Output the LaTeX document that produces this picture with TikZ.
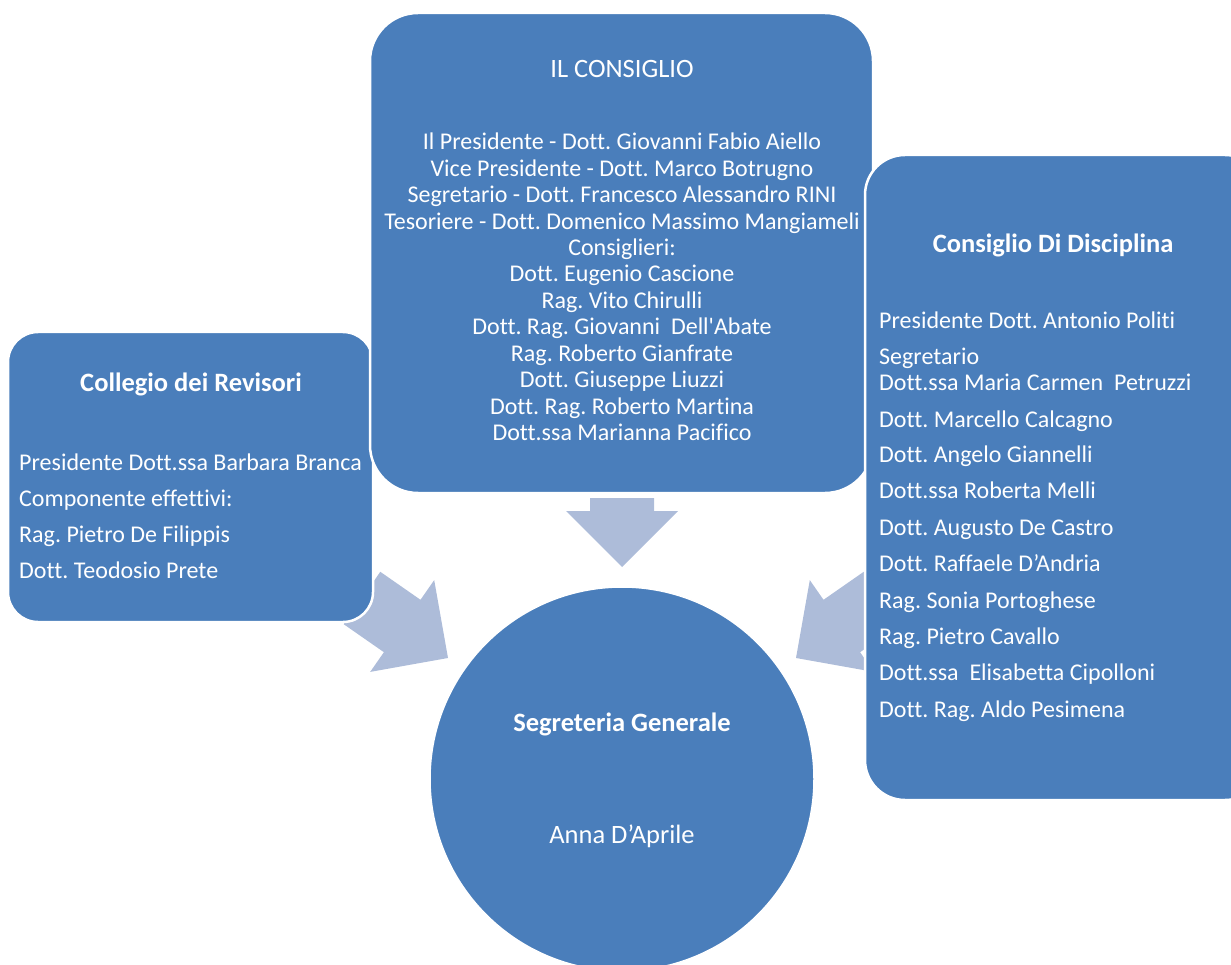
\documentclass[tikz,border=0pt]{standalone}
\usepackage{fontspec}
\setmainfont{Carlito}[Ligatures={NoCommon}]
\frenchspacing
\definecolor{boxblue}{HTML}{4A7EBB}
\definecolor{arrowblue}{HTML}{ADBCD9}
\begin{document}
\begin{tikzpicture}[x=1pt,y=-1pt,
  box/.style={fill=boxblue, draw=white, line width=2.5pt, inner sep=0pt, outer sep=0pt, anchor=north west},
  blockarrow/.style={fill=arrowblue},
  txt/.style={text=white, font=\fontsize{24}{28}\selectfont, inner sep=0pt},
  ttxt/.style={txt, font=\fontsize{26.5}{30}\selectfont},
  btxt/.style={txt, font=\fontsize{26.5}{30}\selectfont\bfseries}]
\useasboundingbox (0,0) rectangle (1231,965);
\clip (0,0) rectangle (1231,965);

% block arrows towards the Segreteria
\fill[blockarrow] (590,498) -- (654,498) -- (654,511) -- (678,511) -- (622,567) -- (566,511) -- (590,511) -- cycle;
\fill[blockarrow] (380.3,571.8) -- (420.5,599.8) -- (434.2,580.1) -- (448,658) -- (370.2,671.9) -- (383.9,652.2) -- (343.7,624.2) -- cycle;
\fill[blockarrow] (863.7,571.8) -- (823.5,599.8) -- (809.8,580.1) -- (796,658) -- (873.8,671.9) -- (860.1,652.2) -- (900.3,624.2) -- cycle;

% Collegio dei Revisori
\node[box, rounded corners=30pt, minimum width=365pt, minimum height=290pt] (rev) at (8,332) {};
\node[btxt, anchor=base] (revtitle) at (191,391) {Collegio dei Revisori};
\foreach \t/\y [count=\i] in {Presidente Dott.ssa Barbara Branca/470, Componente effettivi:/506, Rag. Pietro De Filippis/542, Dott. Teodosio Prete/578}
  \node[txt, anchor=base west] (rev\i) at (19,\y) {\t};

% Il Consiglio
\node[box, rounded corners=48pt, minimum width=503pt, minimum height=480pt] (cons) at (370,13) {};
\node[ttxt, anchor=base] (constitle) at (622,78) {IL CONSIGLIO};
\foreach \t [count=\i] in {Il Presidente - Dott. Giovanni Fabio Aiello, Vice Presidente - Dott. Marco Botrugno, Segretario - Dott. Francesco Alessandro RINI, Tesoriere - Dott. Domenico Massimo Mangiameli, Consiglieri:, Dott. Eugenio Cascione, Rag. Vito Chirulli, Dott. Rag. Giovanni\ \ Dell\textquotesingle Abate, Rag. Roberto Gianfrate, Dott. Giuseppe Liuzzi, Dott. Rag. Roberto Martina, Dott.ssa Marianna Pacifico}
  \node[txt, anchor=base] (cons\i) at (622,{150+(\i-1)*26.4}) {\t};

% Consiglio di Disciplina
\node[box, rounded corners=40pt, minimum width=400pt, minimum height=645pt] (disc) at (865,155) {};
\node[btxt, anchor=base] (disctitle) at (1053,253) {Consiglio Di Disciplina};
\foreach \t/\y [count=\i] in {Presidente Dott. Antonio Politi/329, Segretario/364, Dott.ssa Maria Carmen\ \ Petruzzi/390, Dott. Marcello Calcagno/427, Dott. Angelo Giannelli/462, Dott.ssa Roberta Melli/498, Dott. Augusto De Castro/535, Dott. Raffaele D’Andria/571, Rag. Sonia Portoghese/608, Rag. Pietro Cavallo/644, Dott.ssa\ \ Elisabetta Cipolloni/680, Dott. Rag. Aldo Pesimena/717}
  \node[txt, anchor=base west] (disc\i) at (879,\y) {\t};

% Segreteria Generale
\node[circle, fill=boxblue, draw=white, line width=1.5pt, minimum size=384pt, inner sep=0pt] (seg) at (622,779) {};
\node[btxt, anchor=base] (segtitle) at (622,731) {Segreteria Generale};
\node[ttxt, anchor=base] (segname) at (622,843) {Anna D’Aprile};
\end{tikzpicture}
\end{document}
